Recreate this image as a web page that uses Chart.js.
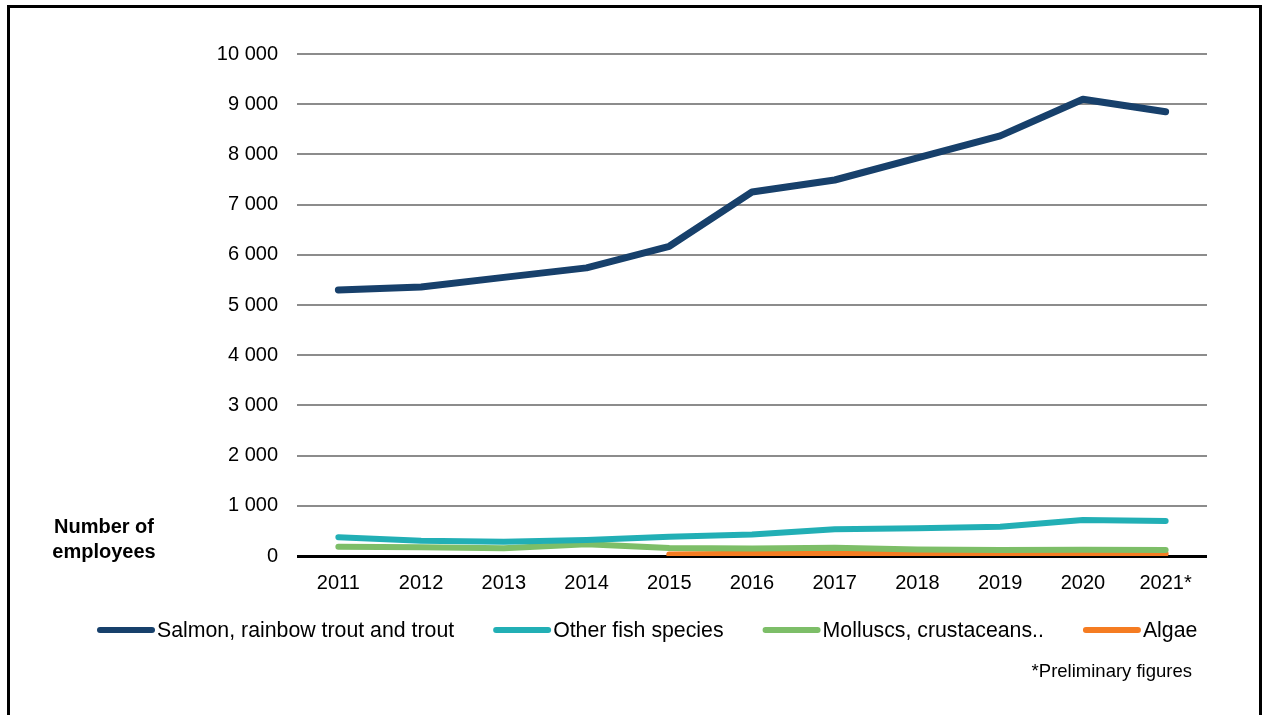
<!DOCTYPE html>
<html>
<head>
<meta charset="utf-8">
<script src="https://cdn.jsdelivr.net/npm/chart.js@4"></script>
<style>
  html, body { margin: 0; padding: 0; background: #fff; }
  #wrap { position: absolute; left: 0; top: 0; width: 1265px; height: 715px; }
  #frame { position: absolute; left: 7px; top: 5px; width: 1249px; height: 730px; border: 3px solid #000; box-sizing: content-box; border-bottom: none; }
</style>
</head>
<body>
<div id="wrap">
  <div id="frame"></div>
  <canvas id="c" width="1265" height="715" style="position:absolute;left:0;top:0;"></canvas>
</div>
<script>
const years = ['2011','2012','2013','2014','2015','2016','2017','2018','2019','2020','2021*'];
const salmon = [5300, 5360, 5550, 5740, 6170, 7250, 7490, 7930, 8370, 9100, 8850];
const otherFish = [375, 305, 285, 320, 385, 430, 531, 551, 584, 717, 697];
const molluscs = [186, 173, 153, 233, 160, 150, 165, 130, 120, 125, 120];
const algae = [null, null, null, null, 30, 45, 55, 50, 45, 50, 45];
const seriesNames = ['Salmon, rainbow trout and trout', 'Other fish species', 'Molluscs, crustaceans..', 'Algae'];
const seriesColors = ['#17406b', '#22afb5', '#7dbe68', '#f57c22'];
const yTicks = [0, 1000, 2000, 3000, 4000, 5000, 6000, 7000, 8000, 9000, 10000];
const axisTitle = ['Number of', 'employees'];
const footnote = '*Preliminary figures';

const FONT = '"Liberation Sans", Arial, sans-serif';

function ds(label, data, color, w) {
  return {
    label, data,
    borderColor: color, backgroundColor: color,
    borderWidth: w, pointRadius: 0, pointHoverRadius: 0,
    tension: 0, borderCapStyle: 'round', borderJoinStyle: 'round',
    spanGaps: false, fill: false
  };
}

const extras = {
  id: 'extras',
  afterDraw(chart) {
    const ctx = chart.ctx;
    ctx.save();
    ctx.fillStyle = '#000';
    ctx.font = 'bold 20px ' + FONT;
    ctx.textAlign = 'center';
    ctx.textBaseline = 'middle';
    ctx.fillText(axisTitle[0], 104, 527);
    ctx.fillText(axisTitle[1], 104, 552);
    ctx.font = '21.3px ' + FONT;
    ctx.textAlign = 'left';
    let x = 97;
    const ly = 630;
    chart.data.datasets.forEach((d) => {
      ctx.strokeStyle = d.borderColor;
      ctx.lineWidth = 6;
      ctx.lineCap = 'round';
      ctx.beginPath();
      ctx.moveTo(x + 3, ly);
      ctx.lineTo(x + 55, ly);
      ctx.stroke();
      ctx.fillStyle = '#000';
      ctx.fillText(d.label, x + 60, ly + 1);
      x += 60 + ctx.measureText(d.label).width + 39;
    });
    ctx.font = '18.5px ' + FONT;
    ctx.textAlign = 'right';
    ctx.fillText(footnote, 1192, 672);
    ctx.restore();
  }
};

new Chart(document.getElementById('c'), {
  type: 'line',
  data: {
    labels: years,
    datasets: [
      ds(seriesNames[0], salmon, seriesColors[0], 7),
      ds(seriesNames[1], otherFish, seriesColors[1], 6),
      ds(seriesNames[2], molluscs, seriesColors[2], 6),
      ds(seriesNames[3], algae, seriesColors[3], 6)
    ]
  },
  options: {
    responsive: false,
    animation: false,
    events: [],
    layout: { padding: { left: 0, right: 58, top: 54, bottom: 0 } },
    plugins: { legend: { display: false }, tooltip: { enabled: false }, title: { display: false } },
    scales: {
      x: {
        offset: true,
        grid: { display: false, drawTicks: false },
        border: { display: false },
        ticks: { color: '#000', font: { family: FONT, size: 20 }, padding: 15, maxRotation: 0, autoSkip: false },
        afterFit(scale) { scale.height = 159; }
      },
      y: {
        min: 0, max: 10000,
        afterBuildTicks(scale) { scale.ticks = yTicks.map(v => ({ value: v })); },
        grid: {
          drawTicks: false,
          color: (c) => (c.tick && c.tick.value === 0) ? '#000' : '#8c8c8c',
          lineWidth: (c) => (c.tick && c.tick.value === 0) ? 3 : 2
        },
        border: { display: false },
        ticks: {
          color: '#000', font: { family: FONT, size: 20 }, padding: 19,
          callback: (v) => String(v).replace(/\B(?=(\d{3})+(?!\d))/g, ' ')
        },
        afterFit(scale) { scale.width = 297; }
      }
    }
  },
  plugins: [extras]
});
</script>
</body>
</html>
